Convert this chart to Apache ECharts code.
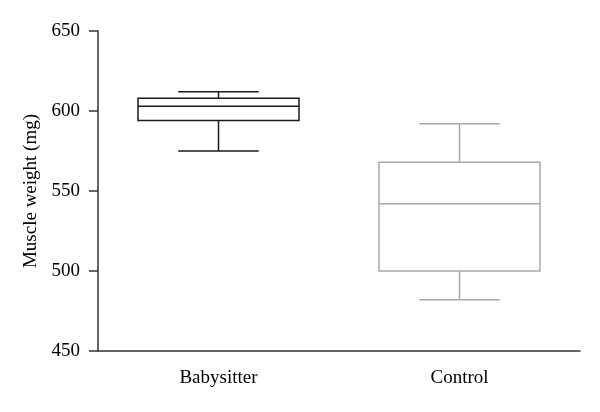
<!DOCTYPE html>
<html>
<head>
<meta charset="utf-8">
<script src="https://cdn.jsdelivr.net/npm/echarts@6/dist/echarts.min.js"></script>
<style>
  html, body { margin: 0; padding: 0; background: #fff; }
  #chart { width: 600px; height: 412px; }
</style>
</head>
<body>
<div id="chart"></div>
<script>
// groups on the x axis
const groups = ['Babysitter', 'Control'];
// [min, Q1, median, Q3, max]
const babysitterBox = [575, 594, 603, 608, 612];
const controlBox = [482, 500, 542, 568, 592];
const boxColors = ['#1a1a1a', '#a9a9a9'];

const serif = '"Liberation Serif", "DejaVu Serif", serif';

const chart = echarts.init(document.getElementById('chart'));

// box with whisker caps half as wide as the box
function renderBox(params, api) {
    const idx = api.value(0);
    const lo = api.coord([idx, api.value(1)]);
    const q1 = api.coord([idx, api.value(2)]);
    const med = api.coord([idx, api.value(3)]);
    const q3 = api.coord([idx, api.value(4)]);
    const hi = api.coord([idx, api.value(5)]);
    const band = api.size([1, 0])[0];
    const half = band * 0.334;
    const cap = half / 2;
    const x = lo[0];
    const style = { stroke: boxColors[params.dataIndex], lineWidth: 1.5, fill: null };
    const line = (x1, y1, x2, y2) => ({ type: 'line', shape: { x1, y1, x2, y2 }, style });
    return {
        type: 'group',
        children: [
            { type: 'rect', shape: { x: x - half, y: q3[1], width: half * 2, height: q1[1] - q3[1] }, style },
            line(x - half, med[1], x + half, med[1]),
            line(x, q3[1], x, hi[1]),
            line(x, q1[1], x, lo[1]),
            line(x - cap, hi[1], x + cap, hi[1]),
            line(x - cap, lo[1], x + cap, lo[1]),
        ],
    };
}

chart.setOption({
    animation: false,
    backgroundColor: '#fff',
    grid: { left: 98, top: 31, width: 482, height: 320 },
    xAxis: {
        type: 'category',
        data: groups,
        axisLine: { lineStyle: { color: '#333', width: 1.5 } },
        axisTick: { alignWithLabel: true, length: 6, lineStyle: { color: '#333', width: 1.5 } },
        axisLabel: { color: '#000', fontFamily: serif, fontSize: 19, margin: 18 },
        splitLine: { show: false },
    },
    yAxis: {
        type: 'value',
        min: 450,
        max: 650,
        interval: 50,
        name: 'Muscle weight (mg)',
        nameLocation: 'middle',
        nameGap: 52,
        nameTextStyle: { color: '#000', fontFamily: serif, fontSize: 19 },
        axisLine: { show: true, lineStyle: { color: '#333', width: 1.5 } },
        axisTick: { show: true, length: 9, lineStyle: { color: '#333', width: 1.5 } },
        axisLabel: { color: '#000', fontFamily: serif, fontSize: 19, margin: 18 },
        splitLine: { show: false },
    },
    series: [
        {
            type: 'custom',
            renderItem: renderBox,
            encode: { x: 0, y: [1, 2, 3, 4, 5] },
            data: [
                [0].concat(babysitterBox),
                [1].concat(controlBox),
            ],
        },
    ],
});
</script>
</body>
</html>
